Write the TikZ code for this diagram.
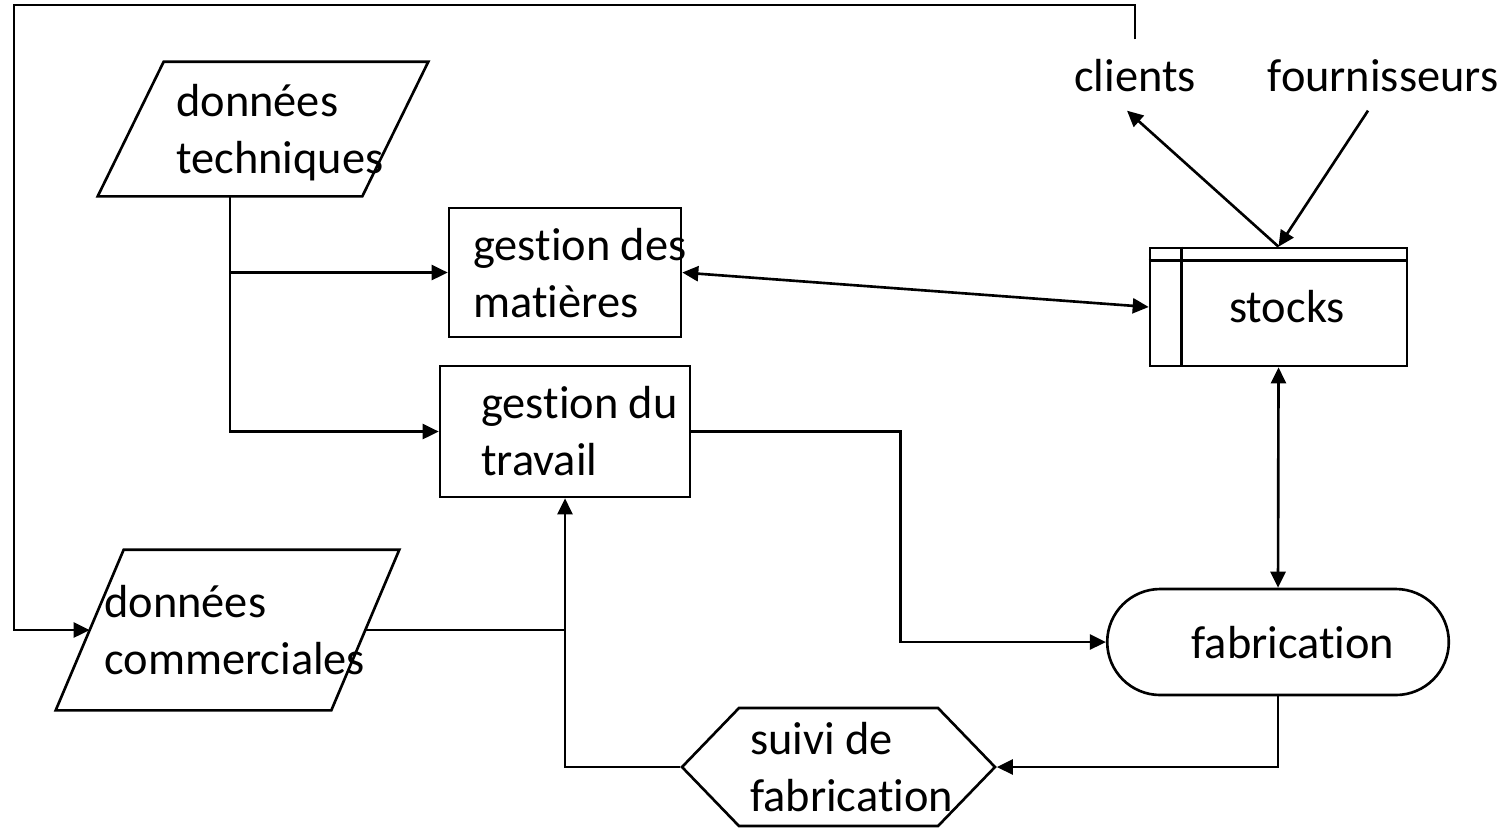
\documentclass[tikz,border=0pt]{standalone}
\usepackage{fontspec}
\setmainfont[Ligatures=NoCommon]{Carlito}
\usetikzlibrary{arrows.meta,shapes.misc,shapes.symbols}

\begin{document}
\begin{tikzpicture}[x=0.1mm, y=-0.1mm, line width=0.75pt,
  txt/.style={font=\fontsize{13.2}{16}\selectfont, inner sep=0pt, align=left},
  flow/.style={-{Triangle[length=1.6mm,width=1.5mm]}},
  both/.style={{Triangle[length=1.6mm,width=1.5mm]}-{Triangle[length=1.6mm,width=1.5mm]}},
  frame/.style={rectangle, inner sep=0pt},
  box/.style={draw, rectangle, inner sep=0pt}]
\useasboundingbox (0,0) rectangle (1509,827);

% data parallelograms, drawn on their frames
\node[frame, minimum width=32.8mm, minimum height=13.2mm] (techniques) at (263,129) {};
\draw ([xshift=6.6mm]techniques.north west) -- (techniques.north east)
  -- ([xshift=-6.6mm]techniques.south east) -- (techniques.south west) -- cycle;
\coordinate (techniques-out) at ([xshift=-3.3mm]techniques.south);
\node[frame, minimum width=34.1mm, minimum height=15.8mm] (commerciales) at (227.5,630) {};
\draw ([xshift=6.8mm]commerciales.north west) -- (commerciales.north east)
  -- ([xshift=-6.8mm]commerciales.south east) -- (commerciales.south west) -- cycle;
\coordinate (commerciales-in) at ([xshift=3.4mm]commerciales.west);
\coordinate (commerciales-out) at ([xshift=-3.4mm]commerciales.east);

% processes
\node[box, minimum width=23.2mm, minimum height=12.9mm] (matieres) at (565,272.5) {};
\node[box, minimum width=25mm, minimum height=13.1mm] (travail) at (565,431.5) {};
\node[box, minimum width=25.7mm, minimum height=11.8mm] (stocks) at (1278.5,307) {};
\draw ([xshift=3.3mm]stocks.north west) -- ([xshift=3.3mm]stocks.south west);
\draw ([yshift=-1.4mm]stocks.north west) -- ([yshift=-1.4mm]stocks.north east);
\node[draw, rounded rectangle, minimum width=36.5mm, minimum height=10.6mm] (fab) at (1278,642) {};
\node[draw, signal, signal to=east and west, signal pointer angle=92,
  inner sep=0pt, minimum width=31.3mm, minimum height=11.8mm] (suivi) at (838.5,767) {};

% texts (base = last line)
\node[txt, anchor=base west] (techniques-txt) at (175,173) {données\\techniques};
\node[txt, anchor=base west] (commerciales-txt) at (103,674) {données\\commerciales};
\node[txt, anchor=base west] (matieres-txt) at (472,317) {gestion des\\matières};
\node[txt, anchor=base west] (travail-txt) at (480,475) {gestion du\\travail};
\node[txt, anchor=base] (stocks-txt) at (1287,322) {stocks};
\node[txt, anchor=base] (fab-txt) at (1293,658) {fabrication};
\node[txt, anchor=base west] (suivi-txt) at (749,811) {suivi de\\fabrication};
\node[txt, anchor=base, inner sep=1.8mm] (clients) at (1135,91) {clients};
\node[txt, anchor=base, inner sep=1.8mm] (fournisseurs) at (1383,91) {fournisseurs};

% connectors
\coordinate (corner) at (14,5);
\draw[flow] (clients.north) |- (corner) |- (commerciales-in);
\draw[flow] (techniques-out) |- (travail.west);
\draw[flow] (techniques-out |- matieres.west) -- (matieres.west);
\draw[both] (matieres.east) -- (stocks.west);
\draw[flow] (stocks.north) -- ([xshift=-0.8mm]clients.south);
\draw[flow] ([xshift=-1.5mm]fournisseurs.south) -- (stocks.north);
\draw[both] (stocks.south) -- (fab.north);
\draw[flow] (travail.east) -- ++(209,0) |- (fab.west);
\draw (commerciales-out) -- (commerciales-out -| travail.south);
\draw[flow] (suivi.west) -| (travail.south);
\draw[flow] (fab.south) |- (suivi.east);
\end{tikzpicture}
\end{document}
